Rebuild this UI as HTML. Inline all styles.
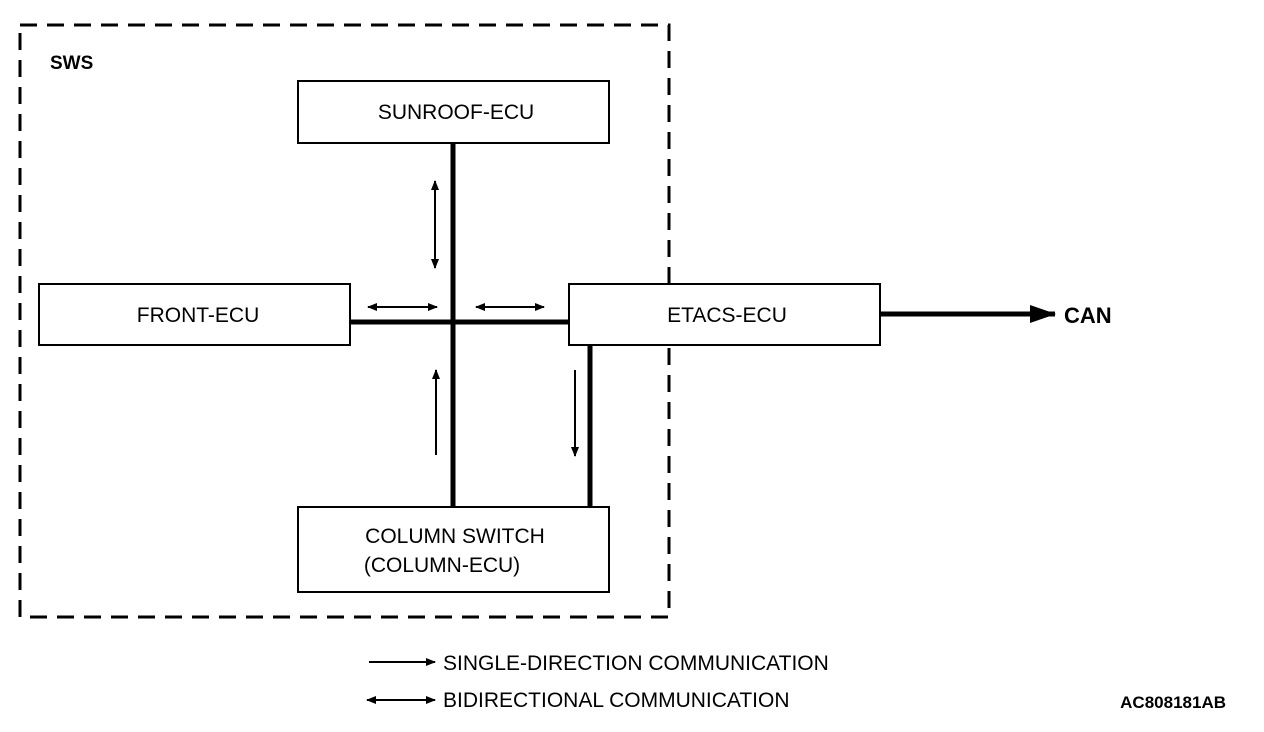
<!DOCTYPE html>
<html><head><meta charset="utf-8"><style>
html,body{margin:0;padding:0;background:#fff;}
svg{display:block;}
text{font-family:"Liberation Sans",sans-serif;fill:#000;}
</style></head><body>
<svg width="1264" height="732" viewBox="0 0 1264 732" xmlns="http://www.w3.org/2000/svg">
<defs>
<marker id="a" markerWidth="10" markerHeight="8" refX="9" refY="4" orient="auto" markerUnits="userSpaceOnUse"><path d="M0,0 L10,4 L0,8 Z" fill="#000"/></marker>
<marker id="s" markerWidth="10" markerHeight="8" refX="1" refY="4" orient="auto" markerUnits="userSpaceOnUse"><path d="M10,0 L0,4 L10,8 Z" fill="#000"/></marker>
<marker id="big" markerWidth="26" markerHeight="18" refX="25" refY="9" orient="auto" markerUnits="userSpaceOnUse"><path d="M0,0 L26,9 L0,18 Z" fill="#000"/></marker>
</defs>
<rect x="20" y="25" width="649" height="592" fill="none" stroke="#000" stroke-width="3" stroke-dasharray="17,10"/>
<text x="50" y="69" font-size="19" font-weight="bold">SWS</text>
<!-- buses -->
<line x1="453" y1="143" x2="453" y2="507" stroke="#000" stroke-width="5"/>
<line x1="350" y1="322" x2="569" y2="322" stroke="#000" stroke-width="5"/>
<line x1="590" y1="345" x2="590" y2="507" stroke="#000" stroke-width="5"/>
<line x1="880" y1="314" x2="1055" y2="314" stroke="#000" stroke-width="5" marker-end="url(#big)"/>
<text x="1064" y="323" font-size="22" font-weight="bold">CAN</text>
<!-- boxes -->
<rect x="298" y="81" width="311" height="62" fill="#fff" stroke="#000" stroke-width="2"/>
<text x="456" y="119" font-size="21" text-anchor="middle">SUNROOF-ECU</text>
<rect x="39" y="284" width="311" height="61" fill="#fff" stroke="#000" stroke-width="2"/>
<text x="198" y="322" font-size="21" text-anchor="middle">FRONT-ECU</text>
<rect x="569" y="284" width="311" height="61" fill="#fff" stroke="#000" stroke-width="2"/>
<text x="727" y="322" font-size="21" text-anchor="middle">ETACS-ECU</text>
<rect x="298" y="507" width="311" height="85" fill="#fff" stroke="#000" stroke-width="2"/>
<text x="455" y="543" font-size="21" text-anchor="middle">COLUMN SWITCH</text>
<text x="442" y="572" font-size="21" text-anchor="middle">(COLUMN-ECU)</text>
<!-- small arrows -->
<g stroke="#000" stroke-width="2">
<line x1="435" y1="181" x2="435" y2="268" marker-start="url(#s)" marker-end="url(#a)"/>
<line x1="368" y1="307" x2="437" y2="307" marker-start="url(#s)" marker-end="url(#a)"/>
<line x1="476" y1="307" x2="544" y2="307" marker-start="url(#s)" marker-end="url(#a)"/>
<line x1="436" y1="455" x2="436" y2="370" marker-end="url(#a)"/>
<line x1="575" y1="370" x2="575" y2="456" marker-end="url(#a)"/>
<line x1="369" y1="662" x2="435" y2="662" marker-end="url(#a)"/>
<line x1="367" y1="700" x2="435" y2="700" marker-start="url(#s)" marker-end="url(#a)"/>
</g>
<text x="443" y="670" font-size="21">SINGLE-DIRECTION COMMUNICATION</text>
<text x="443" y="707" font-size="21">BIDIRECTIONAL COMMUNICATION</text>
<text x="1226" y="708" font-size="17" font-weight="bold" text-anchor="end">AC808181AB</text>
</svg>
</body></html>
